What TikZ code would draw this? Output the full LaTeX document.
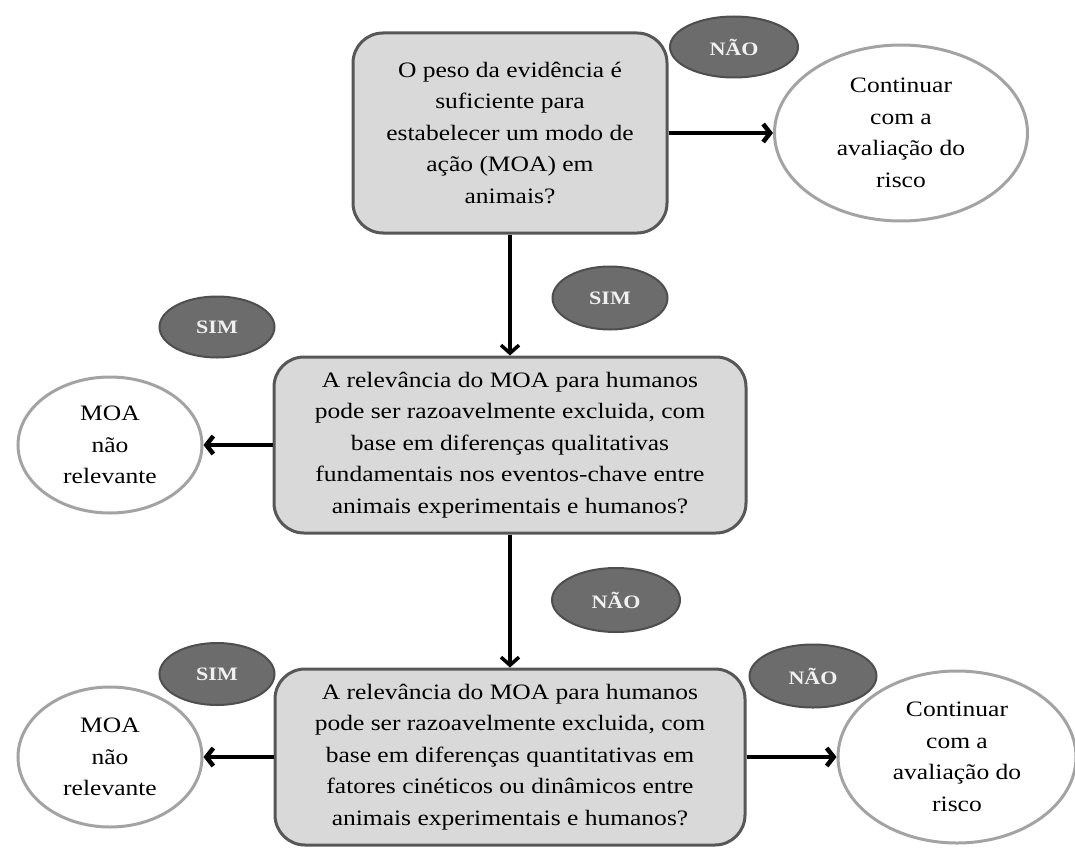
\documentclass[tikz,border=0pt]{standalone}
\usepackage{fontspec}
\setmainfont[FakeStretch=1.16]{Liberation Serif}
\usetikzlibrary{arrows.meta,shapes.geometric}
\definecolor{boxfill}{HTML}{D9D9D9}
\definecolor{boxline}{HTML}{575757}
\definecolor{tagfill}{HTML}{6C6C6C}
\definecolor{tagline}{HTML}{4E4E4E}
\definecolor{ellline}{HTML}{A3A3A3}
\tikzset{
  qbox/.style={draw=boxline, line width=3pt, fill=boxfill, rounded corners=30pt,
    inner sep=0pt, align=center, text=black, font=\fontsize{22}{31.5}\selectfont},
  tag/.style={ellipse, draw=tagline, line width=2pt, fill=tagfill, inner sep=0pt,
    text=white!94!black, font=\fontsize{19}{20}\selectfont\bfseries},
  endell/.style={ellipse, draw=ellline, line width=3pt, fill=white, inner sep=0pt,
    align=center, text=black, font=\fontsize{22}{31.5}\selectfont},
  flow/.style={draw=black, line width=4.5pt, -{Straight Barb[length=7pt,width=18pt]}},
  vflow/.style={draw=black, line width=3.5pt, -{Straight Barb[length=8pt,width=18pt]}}
}
\begin{document}
\begin{tikzpicture}[x=1pt,y=-1pt]
\useasboundingbox (0,0) rectangle (1075,848);
% main question boxes
\node[qbox, minimum width=314pt, minimum height=200pt] (b1) at (510,133)
  {O peso da evidência é\\ suficiente para\\ estabelecer um modo de\\ ação (MOA) em\\ animais?};
\node[qbox, minimum width=472pt, minimum height=176pt] (b2) at (510,445)
  {A relevância do MOA para humanos\\ pode ser razoavelmente excluida, com\\ base em diferenças qualitativas\\ fundamentais nos eventos-chave entre\\ animais experimentais e humanos?};
\node[qbox, minimum width=470pt, minimum height=176pt] (b3) at (510,757)
  {A relevância do MOA para humanos\\ pode ser razoavelmente excluida, com\\ base em diferenças quantitativas em\\ fatores cinéticos ou dinâmicos entre\\ animais experimentais e humanos?};
% end ellipses
\node[endell, minimum width=253pt, minimum height=176pt] (e1) at (901,133)
  {Continuar\\ com a\\ avaliação do\\ risco};
\node[endell, minimum width=184pt, minimum height=136pt] (m1) at (110,445)
  {MOA\\ não\\ relevante};
\node[endell, minimum width=184pt, minimum height=140pt] (m2) at (110,757)
  {MOA\\ não\\ relevante};
\node[endell, minimum width=238pt, minimum height=172pt] (e2) at (957,757)
  {Continuar\\ com a\\ avaliação do\\ risco};
% answer tags
\node[tag, minimum width=128pt, minimum height=61pt] (t1) at (734,47) {NÃO};
\node[tag, minimum width=115pt, minimum height=63pt] (t2) at (610,298) {SIM};
\node[tag, minimum width=115pt, minimum height=61pt] (t3) at (217,327) {SIM};
\node[tag, minimum width=128pt, minimum height=64pt] (t4) at (616,600) {NÃO};
\node[tag, minimum width=115pt, minimum height=62pt] (t5) at (217,674) {SIM};
\node[tag, minimum width=127pt, minimum height=63pt] (t6) at (813,676) {NÃO};
% connectors
\draw[flow] (b1.east) -- (e1.west);
\draw[vflow] (b1.south) -- (b2.north);
\draw[flow] (b2.west) -- (m1.east);
\draw[vflow] (b2.south) -- (b3.north);
\draw[flow] (b3.west) -- (m2.east);
\draw[flow] (b3.east) -- (e2.west);
\end{tikzpicture}
\end{document}
